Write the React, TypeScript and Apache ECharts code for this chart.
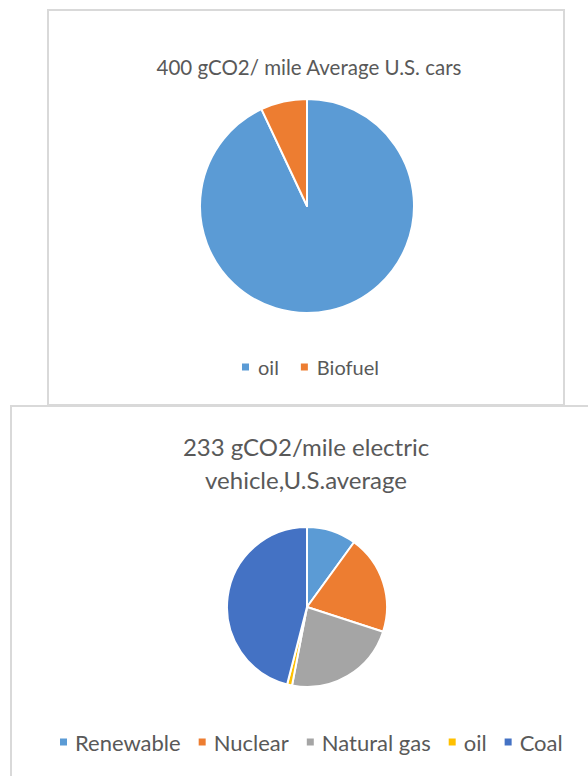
import React, { useEffect, useRef } from "react";
import * as echarts from "echarts";

const carCategories = ["oil", "Biofuel"];
const carValues = [93, 7];
const carColors = ["#5B9BD5", "#ED7D31"];

const evCategories = ["Renewable", "Nuclear", "Natural gas", "oil", "Coal"];
const evValues = [10, 20, 23, 1, 46];
const evColors = ["#5B9BD5", "#ED7D31", "#A5A5A5", "#FFC000", "#4472C4"];

const carTitle = "400 gCO2/ mile Average U.S. cars";
const evTitle = "233 gCO2/mile electric\nvehicle,U.S.average";

const FONT = "Lato";
const TEXT = "#595959";

export default function App() {
  const ref = useRef<HTMLDivElement>(null);
  useEffect(() => {
    if (!ref.current) return;
    const chart = echarts.init(ref.current, null, { renderer: "svg" });
    chart.setOption({
      animation: false,
      backgroundColor: "#ffffff",
      graphic: [
        {
          type: "rect",
          shape: { x: 48, y: 10, width: 516, height: 395 },
          style: { fill: "none", stroke: "#D9D9D9", lineWidth: 2 },
          z: 0,
        },
        {
          type: "rect",
          shape: { x: 11, y: 406, width: 620, height: 400 },
          style: { fill: "#ffffff", stroke: "#D9D9D9", lineWidth: 2 },
          z: 0,
        },
      ],
      title: [
        {
          text: carTitle,
          left: 309,
          top: 56,
          textAlign: "center",
          padding: 0,
          textStyle: { fontFamily: FONT, fontSize: 20.5, fontWeight: "normal", color: TEXT },
        },
        {
          text: evTitle,
          left: 306,
          top: 430,
          textAlign: "center",
          padding: 0,
          textStyle: { fontFamily: FONT, fontSize: 24, fontWeight: "normal", color: TEXT, lineHeight: 33 },
        },
      ],
      legend: [
        {
          data: carCategories.map((n, i) => ({ name: n, itemStyle: { color: carColors[i] } })),
          left: 240,
          top: 357,
          padding: 0,
          icon: "rect",
          itemWidth: 9,
          itemHeight: 9,
          itemGap: 20,
          selectedMode: false,
          textStyle: { fontFamily: FONT, fontSize: 20, color: TEXT, padding: [0, 0, 0, 3] },
        },
        {
          data: evCategories.map((n, i) => ({ name: n, itemStyle: { color: evColors[i] } })),
          left: 58,
          top: 731,
          padding: 0,
          icon: "rect",
          itemWidth: 9,
          itemHeight: 9,
          itemGap: 16,
          selectedMode: false,
          textStyle: { fontFamily: FONT, fontSize: 22, color: TEXT, padding: [0, 0, 0, 2] },
        },
      ],
      series: [
        {
          type: "pie",
          center: [307, 206],
          radius: 107,
          startAngle: 90,
          clockwise: true,
          label: { show: false },
          labelLine: { show: false },
          itemStyle: { borderColor: "#ffffff", borderWidth: 2 },
          emphasis: { disabled: true },
          data: carCategories.map((n, i) => ({ name: n, value: carValues[i], itemStyle: { color: carColors[i] } })),
        },
        {
          type: "pie",
          center: [307, 607],
          radius: 80,
          startAngle: 90,
          clockwise: true,
          label: { show: false },
          labelLine: { show: false },
          itemStyle: { borderColor: "#ffffff", borderWidth: 2 },
          emphasis: { disabled: true },
          data: evCategories.map((n, i) => ({ name: n, value: evValues[i], itemStyle: { color: evColors[i] } })),
        },
      ],
    });
    return () => chart.dispose();
  }, []);
  return (
    <div
      ref={ref}
      style={{ position: "fixed", left: 0, top: 0, width: 588, height: 776 }}
    />
  );
}
